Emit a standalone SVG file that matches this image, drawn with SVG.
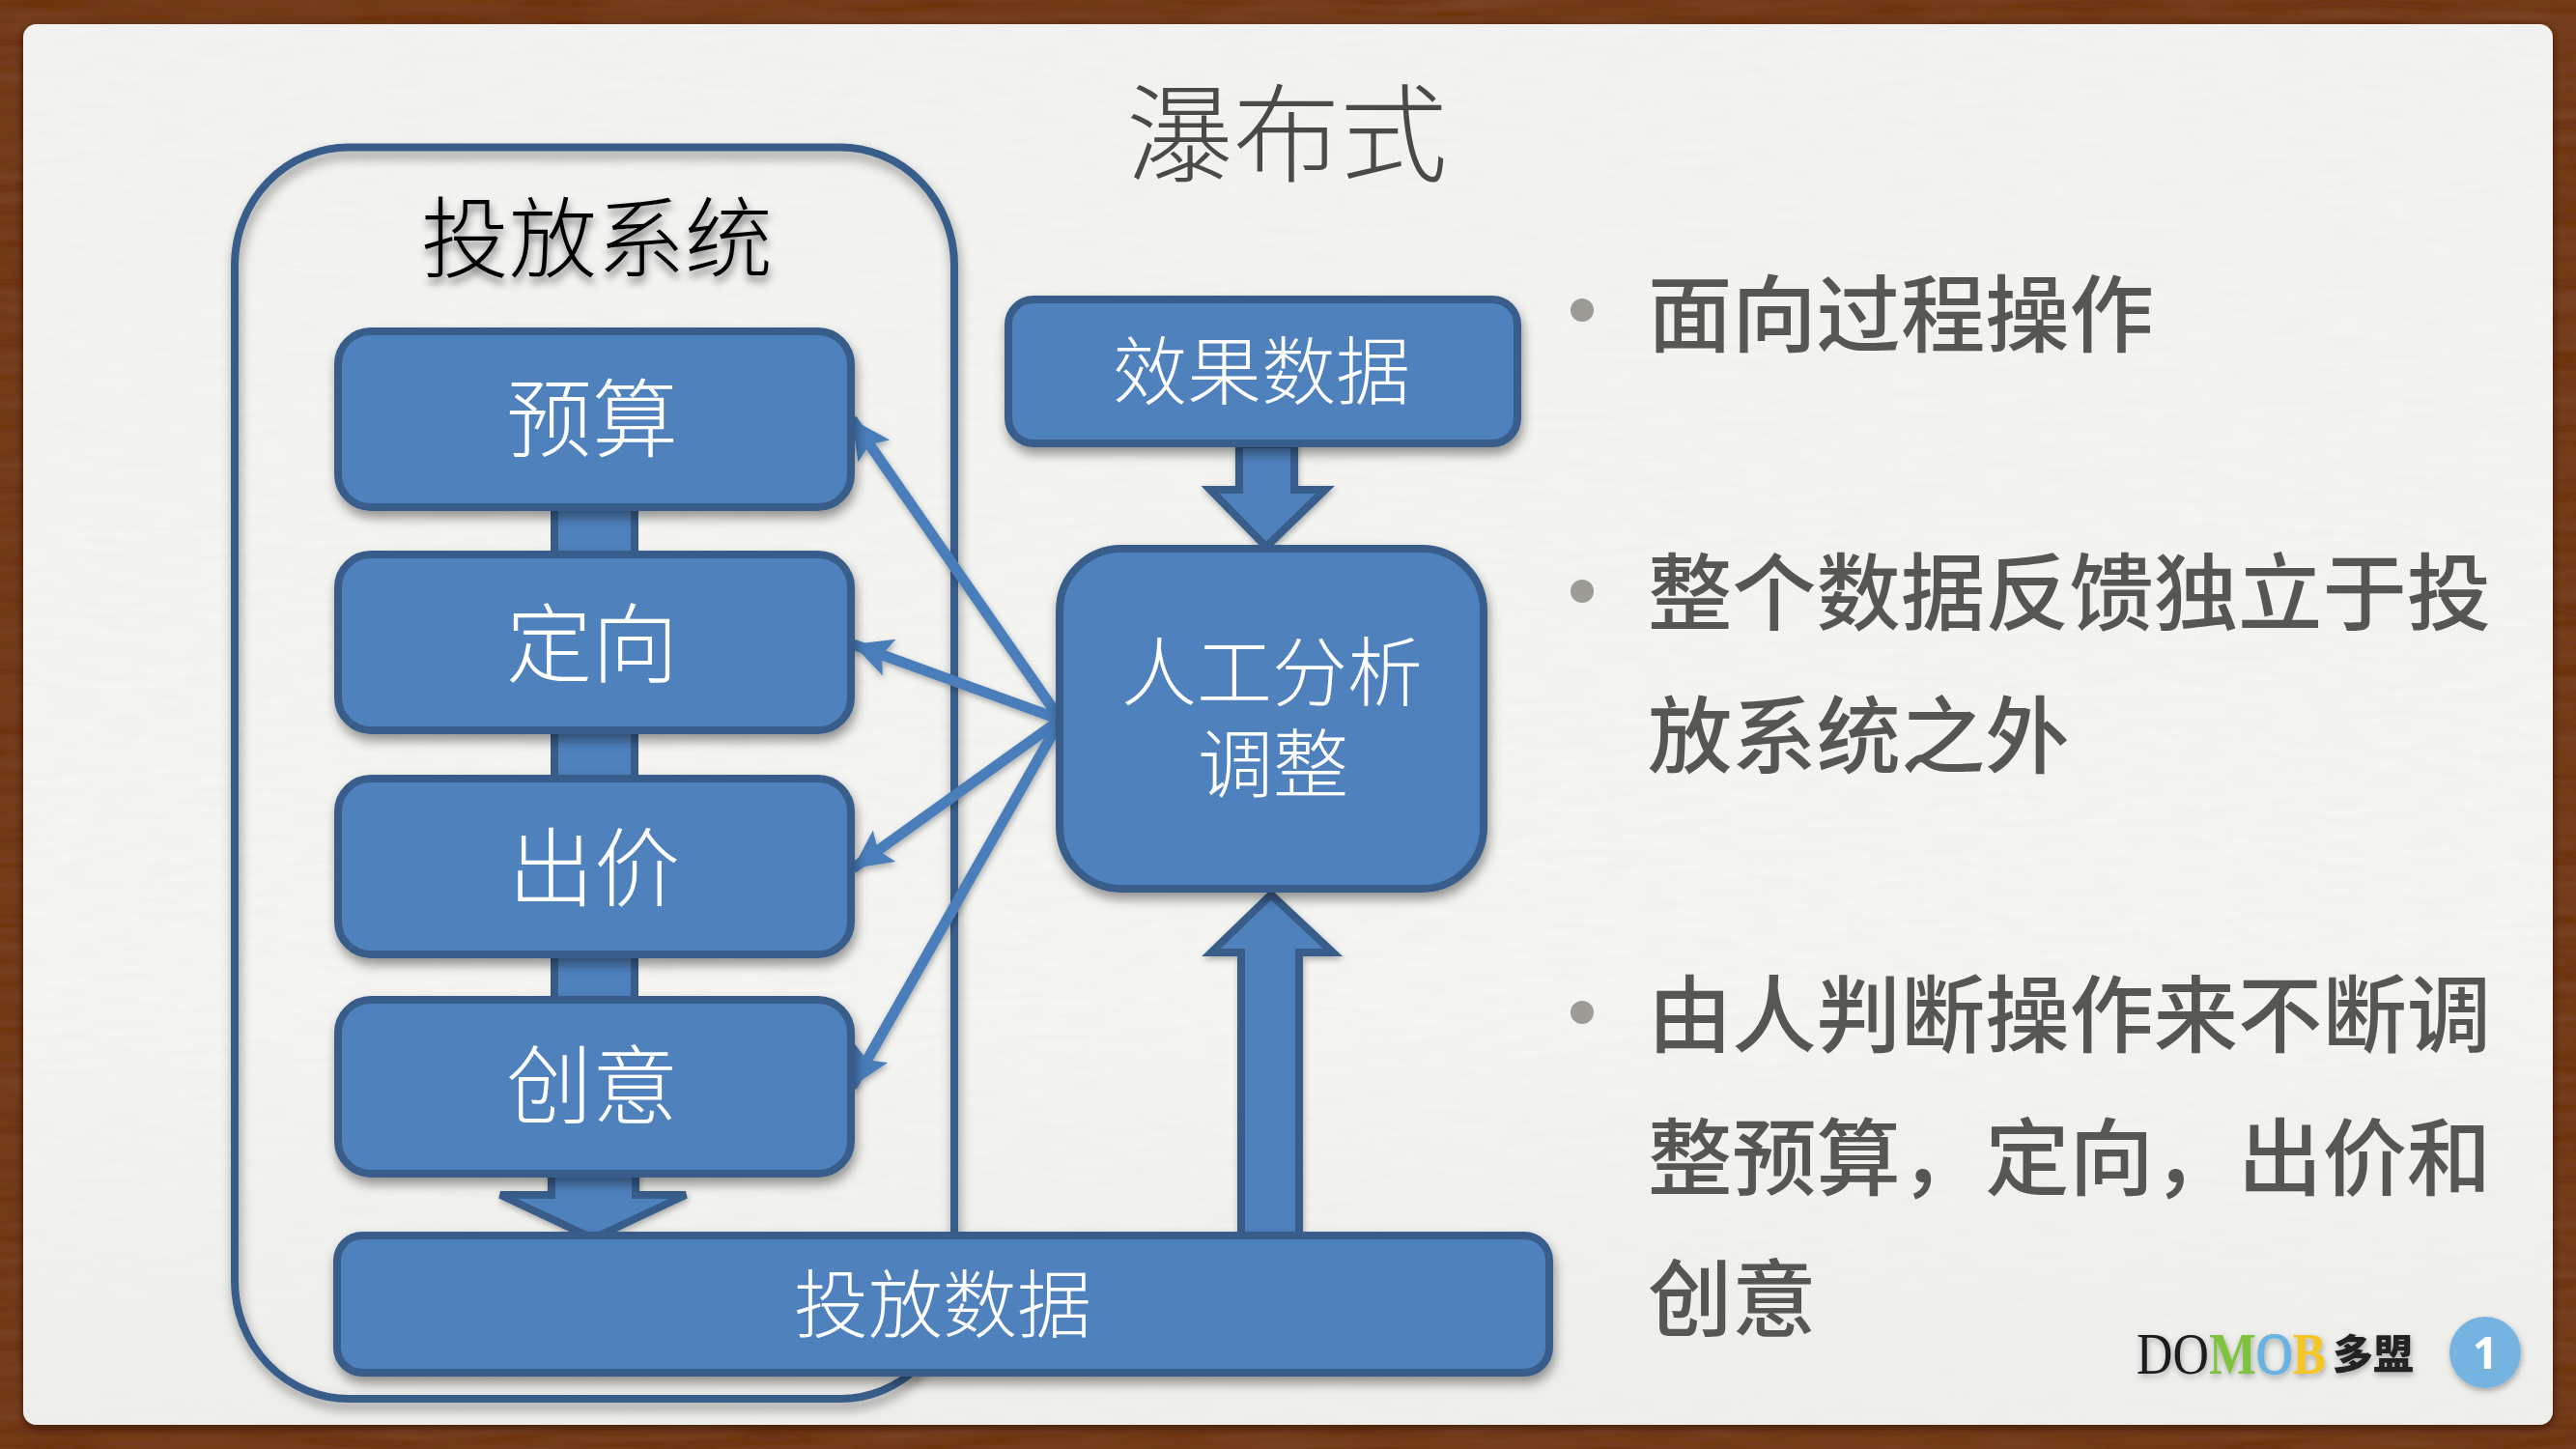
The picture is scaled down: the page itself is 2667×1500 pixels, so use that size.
<svg xmlns="http://www.w3.org/2000/svg" width="2667" height="1500" viewBox="0 0 2667 1500">
<style>
text{font-family:"Liberation Serif","Noto Sans CJK SC",sans-serif}
.box{fill:#4f81bd;stroke:#385d8a;stroke-width:8;filter:url(#sh)}
.blk{fill:#4f81bd;stroke:#385d8a;stroke-width:8;stroke-linejoin:miter}
.thin{stroke:#4a7ebb;stroke-width:11;fill:none;marker-end:url(#ah);filter:url(#shl)}
.lbl{fill:#fff;text-anchor:middle;font-family:"Noto Sans CJK SC",sans-serif;font-weight:300}
.bul{fill:#565654;font-family:"Noto Sans CJK SC",sans-serif;font-size:87.300px;font-weight:500}
.dot{fill:#9c9c94}
.logo{font-family:"Liberation Serif",serif;font-size:62px}
</style>
<defs>
<filter id="sh" x="-10%" y="-10%" width="120%" height="125%"><feDropShadow dx="2" dy="7" stdDeviation="6" flood-color="#000" flood-opacity="0.4"/></filter>
<filter id="shl" x="-20%" y="-20%" width="140%" height="140%"><feDropShadow dx="1" dy="3" stdDeviation="3" flood-color="#000" flood-opacity="0.3"/></filter>
<filter id="sht" x="-10%" y="-20%" width="120%" height="150%"><feDropShadow dx="1" dy="6" stdDeviation="4" flood-color="#000" flood-opacity="0.55"/></filter>
<filter id="paper" x="0" y="0" width="100%" height="100%">
<feTurbulence type="fractalNoise" baseFrequency="0.02 0.14" numOctaves="4" seed="4" result="n"/>
<feColorMatrix in="n" type="matrix" values="0 0 0 0 0.82  0 0 0 0 0.82  0 0 0 0 0.8  0.4 0.4 0 0 -0.3"/>
<feComposite in2="SourceGraphic" operator="in" result="t"/>
<feMerge><feMergeNode in="SourceGraphic"/><feMergeNode in="t"/></feMerge>
</filter>
<filter id="wood" x="0" y="0" width="100%" height="100%">
<feTurbulence type="fractalNoise" baseFrequency="0.008 0.08" numOctaves="2" seed="9" result="n"/>
<feColorMatrix in="n" type="matrix" values="0 0 0 0 0.3  0 0 0 0 0.12  0 0 0 0 0.05  0.3 0.3 0 0 -0.2"/>
<feComposite in2="SourceGraphic" operator="in" result="t"/>
<feMerge><feMergeNode in="SourceGraphic"/><feMergeNode in="t"/></feMerge>
</filter>
<filter id="sl" x="-2%" y="-2%" width="104%" height="104%"><feDropShadow dx="0" dy="3" stdDeviation="4" flood-color="#2a1005" flood-opacity="0.7"/></filter>
<linearGradient id="pg" x1="0" y1="0" x2="0" y2="1"><stop offset="0" stop-color="#f3f3f1"/><stop offset="0.7" stop-color="#f5f5f3"/><stop offset="1" stop-color="#eeeeeb"/></linearGradient>
<marker id="ah" markerUnits="userSpaceOnUse" markerWidth="44" markerHeight="44" refX="40" refY="20" orient="auto"><path d="M40 20 L0 0 L8 20 L0 40 Z" fill="#4a7ebb"/></marker>
</defs>

<rect id="frame" x="0" y="0" width="2667" height="1500" fill="#6e3417" filter="url(#wood)"/>
<g filter="url(#sl)"><rect id="slide" x="24" y="25" width="2619" height="1450" rx="14" fill="url(#pg)" filter="url(#paper)"/></g>

<g id="title"><text x="1332" y="180" font-size="111" fill="#4a4a48" text-anchor="middle" font-weight="300" style="font-family:'Noto Sans CJK SC',sans-serif">瀑布式</text></g>

<g id="system-frame">
<rect x="243" y="152.500" width="745" height="1295.500" rx="118" ry="122" fill="none" stroke="#385d8a" stroke-width="8" filter="url(#sh)"/>
<text class="lbl" x="618" y="280" font-size="91" style="fill:#000;filter:url(#sht)">投放系统</text>
</g>

<g id="connectors">
<rect class="blk" x="574" y="525" width="83" height="50"/>
<rect class="blk" x="574" y="756" width="83" height="50"/>
<rect class="blk" x="574" y="988" width="83" height="48"/>
<path class="blk" filter="url(#shl)" d="M571 1215 V1237 H518 L614 1282 L710 1237 H658 V1215 Z"/>
<path class="blk" filter="url(#shl)" d="M1283 460 V507 H1253 L1311 566 L1372 507 H1340 V460 Z"/>
<path class="blk" filter="url(#shl)" d="M1285 1280 V986 H1254 L1316 926 L1380 986 H1345 V1280 Z"/>
<path class="thin" d="M1098 745 L882 434"/>
<path class="thin" d="M1098 745 L883 667"/>
<path class="thin" d="M1098 745 L883 899"/>
<path class="thin" d="M1098 745 L882 1125"/>
</g>

<g id="node-budget"><rect class="box" x="350" y="343" width="531" height="182" rx="34"/><text class="lbl" x="613" y="466" font-size="89">预算</text></g>
<g id="node-targeting"><rect class="box" x="350" y="574" width="531" height="182" rx="34"/><text class="lbl" x="613" y="699" font-size="89">定向</text></g>
<g id="node-bid"><rect class="box" x="350" y="806" width="531" height="182" rx="34"/><text class="lbl" x="615" y="931" font-size="89">出价</text></g>
<g id="node-creative"><rect class="box" x="350" y="1035" width="531" height="180" rx="34"/><text class="lbl" x="613" y="1156" font-size="89">创意</text></g>
<g id="node-delivery-data"><rect class="box" x="349" y="1279" width="1255" height="142" rx="26"/><text class="lbl" x="976" y="1379" font-size="77">投放数据</text></g>
<g id="node-effect-data"><rect class="box" x="1044" y="310" width="527" height="149" rx="26"/><text class="lbl" x="1306" y="413" font-size="77">效果数据</text></g>
<g id="node-analysis"><rect class="box" x="1097" y="568" width="439" height="352" rx="64"/><text class="lbl" x="1317" y="725" font-size="78">人工分析</text><text class="lbl" x="1318" y="820" font-size="78">调整</text></g>

<g id="bullets">
<circle class="dot" cx="1638" cy="321" r="12"/>
<text class="bul" x="1706" y="358">面向过程操作</text>
<circle class="dot" cx="1638" cy="612" r="12"/>
<text class="bul" x="1706" y="646">整个数据反馈独立于投</text>
<text class="bul" x="1706" y="794">放系统之外</text>
<circle class="dot" cx="1638" cy="1048" r="12"/>
<text class="bul" x="1706" y="1083">由人判断操作来不断调</text>
<text class="bul" x="1706" y="1231">整预算，定向，出价和</text>
<text class="bul" x="1706" y="1377">创意</text>
</g>

<g id="logo" filter="url(#shl)">
<text class="logo" x="2212" y="1422" textLength="196" lengthAdjust="spacingAndGlyphs"><tspan fill="#1a1a1a">DO</tspan><tspan fill="#7fc241" font-weight="700">M</tspan><tspan fill="#6bb2e0" stroke="#6bb2e0" stroke-width="2">O</tspan><tspan fill="#f6c628" font-weight="700">B</tspan></text>
<text x="2415" y="1417" font-size="42" font-weight="900" fill="#222" style="font-family:'Noto Sans CJK SC',sans-serif">多盟</text>
</g>
<g id="page-number">
<circle cx="2573" cy="1400" r="37" fill="#76b3e0" filter="url(#shl)"/>
<text x="2573" y="1417" font-size="46" font-weight="700" fill="#fff" text-anchor="middle" style="font-family:'Open Sans',sans-serif">1</text>
</g>
</svg>
